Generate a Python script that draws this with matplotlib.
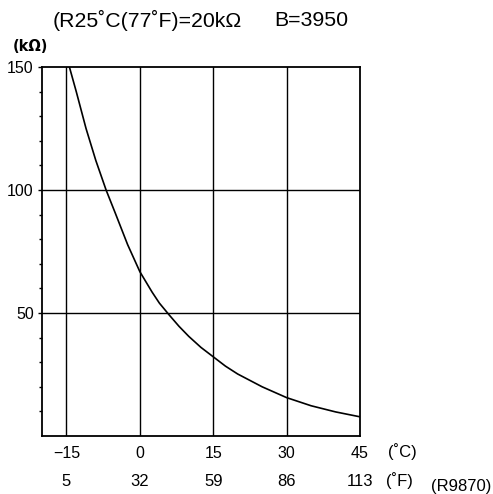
import matplotlib
matplotlib.use("Agg")
import matplotlib.pyplot as plt
import matplotlib.transforms as mtransforms

# thermistor curve (temperature in C, resistance in kOhm)
temp_c = [-14.4, -13, -11, -9, -6.9, -5, -2.5, 0, 2.5, 4, 6, 8, 10, 12.5,
          15, 17.5, 20, 25, 30, 35, 40, 45]
res_kohm = [150, 140, 125, 112, 100, 90.5, 77.8, 66.8, 58.5, 54, 49.2, 44.6, 40.5, 36,
            32.2, 28.4, 25.2, 20, 15.6, 12.3, 9.8, 7.8]

c_ticks = [-15, 0, 15, 30, 45]
c_labels = ["\u221215", "0", "15", "30", "45"]
f_labels = ["5", "32", "59", "86", "113"]
y_ticks = [50, 100, 150]

fig = plt.figure(figsize=(4.93, 4.94), dpi=100)
ax = fig.add_axes([0.0852, 0.1174, 0.645, 0.747])

ax.plot(temp_c, res_kohm, color="black", lw=1.2)

ax.set_xlim(-20, 45)
ax.set_ylim(0, 150)

# grid
for x in c_ticks[:-1]:
    ax.axvline(x, color="black", lw=1.0)
for y in y_ticks[:-1]:
    ax.axhline(y, color="black", lw=1.0)

for s in ax.spines.values():
    s.set_linewidth(1.3)

ax.set_xticks(c_ticks)
ax.set_xticklabels(c_labels, fontsize=11.5, family="Liberation Sans")
ax.set_yticks(y_ticks)
ax.set_yticklabels([str(v) for v in y_ticks], fontsize=11.5, family="Liberation Sans")
ax.set_yticks(range(10, 150, 10), minor=True)
ax.tick_params(axis="y", which="major", length=3, width=1, pad=3)
ax.tick_params(axis="x", which="major", length=0, pad=7)
ax.tick_params(axis="y", which="minor", length=2, width=1)

trans = mtransforms.blended_transform_factory(ax.transData, ax.transAxes)
for x, lab in zip(c_ticks, f_labels):
    ax.text(x, -0.122, lab, transform=trans, ha="center", va="center",
            fontsize=12, family="Liberation Sans")

fig.text(0.817, 0.085, "(\u02daC)", ha="center", va="center", fontsize=12,
         family="Liberation Sans")
fig.text(0.81, 0.027, "(\u02daF)", ha="center", va="center", fontsize=12,
         family="Liberation Sans")
fig.text(0.935, 0.015, "(R9870)", ha="center", va="center", fontsize=12,
         family="Liberation Sans")
fig.text(0.062, 0.905, "(k\u03a9)", ha="center", va="center", fontsize=10.5,
         family="DejaVu Sans", weight="bold")
fig.text(0.106, 0.958, "(R25\u02daC(77\u02daF)=20k\u03a9", ha="left", va="center",
         fontsize=15.3, family="Liberation Sans")
fig.text(0.556, 0.958, "B=3950", ha="left", va="center",
         fontsize=15.3, family="Liberation Sans")

fig.savefig("out.png", dpi=100)
